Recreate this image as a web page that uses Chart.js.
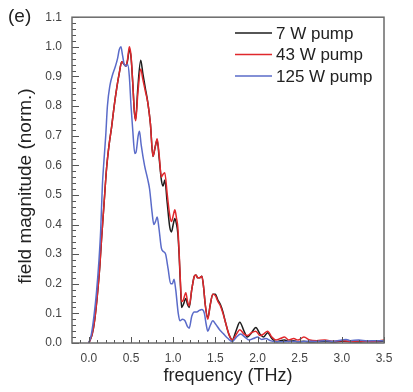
<!DOCTYPE html>
<html><head><meta charset="utf-8">
<script src="https://cdn.jsdelivr.net/npm/chart.js@4/dist/chart.umd.min.js"></script>
<style>html,body{margin:0;padding:0;background:#fff;}canvas{display:block;}</style>
</head><body>
<canvas id="c" width="413" height="392"></canvas>
<script>
const seriesLabels = ['7 W pump', '43 W pump', '125 W pump'];
const xTicks = [0.0, 0.5, 1.0, 1.5, 2.0, 2.5, 3.0, 3.5];
const yTicks = [0.0, 0.1, 0.2, 0.3, 0.4, 0.5, 0.6, 0.7, 0.8, 0.9, 1.0, 1.1];
const xTitle = 'frequency (THz)';
const yTitle = 'field magnitude (norm.)';

// frequency grid shared by the 7 W and 43 W curves (THz)
const freqLow = [0.00,0.04,0.07,0.10,0.13,0.15,0.18,0.21,0.24,0.27,0.30,0.33,0.36,0.39,0.42,0.44,0.46,0.48,0.50,0.52,0.54,0.555,0.58,0.615,0.64,0.67,0.70,0.73,0.76,0.785,0.81,0.835,0.86,0.88,0.90,0.93,0.96,0.98,1.00,1.02,1.04,1.055,1.07,1.09,1.10,1.12,1.15,1.17,1.19,1.22,1.25,1.27,1.29,1.31,1.34,1.36,1.38,1.41,1.44,1.47,1.50,1.53,1.56,1.59,1.62,1.66,1.70,1.75,1.79,1.84,1.88,1.93,1.98,2.03,2.07,2.12,2.17,2.22,2.27,2.32,2.37,2.43,2.48,2.55,2.62,2.70,2.80,2.90,3.00,3.10,3.20,3.30,3.40,3.50];

const field7 = [0.00,0.03,0.08,0.16,0.26,0.35,0.47,0.59,0.67,0.73,0.80,0.86,0.91,0.95,0.94,0.935,0.955,0.99,0.965,0.88,0.78,0.755,0.86,0.955,0.91,0.86,0.81,0.74,0.63,0.66,0.685,0.62,0.55,0.53,0.55,0.47,0.39,0.375,0.40,0.42,0.40,0.37,0.30,0.17,0.12,0.13,0.15,0.13,0.12,0.18,0.225,0.23,0.22,0.22,0.225,0.19,0.13,0.085,0.13,0.165,0.165,0.145,0.13,0.105,0.07,0.03,0.01,0.045,0.07,0.04,0.02,0.035,0.052,0.03,0.02,0.035,0.015,0.004,0.008,0.01,0.005,0.008,0.004,0.006,0.003,0.004,0.005,0.003,0.006,0.004,0.003,0.005,0.004,0.006];

const field43 = [0.00,0.03,0.08,0.16,0.26,0.35,0.47,0.59,0.67,0.73,0.80,0.86,0.91,0.95,0.94,0.935,0.96,1.00,0.97,0.88,0.78,0.75,0.84,0.925,0.89,0.85,0.81,0.74,0.63,0.66,0.69,0.63,0.56,0.57,0.575,0.50,0.43,0.41,0.43,0.45,0.42,0.39,0.31,0.18,0.14,0.145,0.17,0.14,0.125,0.18,0.225,0.23,0.22,0.22,0.225,0.19,0.13,0.08,0.13,0.165,0.16,0.14,0.125,0.10,0.07,0.03,0.01,0.03,0.045,0.03,0.025,0.035,0.04,0.025,0.03,0.04,0.02,0.01,0.015,0.02,0.01,0.015,0.01,0.02,0.01,0.008,0.01,0.006,0.008,0.005,0.007,0.005,0.006,0.01];

const freq125 = [0.00,0.03,0.06,0.09,0.12,0.14,0.16,0.18,0.20,0.22,0.25,0.28,0.31,0.34,0.36,0.38,0.40,0.42,0.44,0.46,0.48,0.50,0.52,0.545,0.56,0.585,0.60,0.62,0.66,0.70,0.72,0.75,0.77,0.79,0.81,0.83,0.86,0.88,0.91,0.94,0.97,0.99,1.01,1.03,1.06,1.08,1.11,1.14,1.17,1.19,1.22,1.25,1.28,1.31,1.34,1.37,1.39,1.41,1.44,1.47,1.50,1.55,1.60,1.65,1.70,1.75,1.80,1.85,1.90,1.95,2.00,2.05,2.10,2.15,2.20,2.30,2.40,2.50,2.60,2.70,2.80,2.90,3.00,3.05,3.10,3.20,3.30,3.40,3.50];

const field125 = [0.00,0.03,0.09,0.17,0.28,0.38,0.53,0.62,0.70,0.80,0.87,0.905,0.93,0.96,0.99,1.00,0.97,0.94,0.935,0.94,0.90,0.80,0.72,0.64,0.645,0.70,0.715,0.67,0.60,0.55,0.52,0.44,0.40,0.41,0.425,0.39,0.32,0.31,0.30,0.25,0.20,0.20,0.215,0.18,0.10,0.075,0.08,0.075,0.055,0.05,0.09,0.105,0.105,0.11,0.113,0.10,0.065,0.04,0.06,0.075,0.065,0.045,0.03,0.015,0.005,0.02,0.03,0.02,0.01,0.015,0.02,0.012,0.015,0.008,0.005,0.004,0.006,0.004,0.006,0.005,0.008,0.006,0.01,0.012,0.008,0.01,0.007,0.008,0.007];

const seriesColors = ['#1e1e1e', '#e0282c', '#5a6bc9'];

const toPts = (xs, ys) => xs.map((f, i) => ({x: f, y: ys[i]}));
const FONT = "'Liberation Sans', Arial, sans-serif";

const decor = {
  id: 'decor',
  afterDraw(chart) {
    const {ctx, chartArea: a, scales: {x, y}} = chart;
    ctx.save();
    // ticks (inward)
    ctx.strokeStyle = '#555'; ctx.lineWidth = 1;
    for (let i = -1; i <= 35; i++) {
      const px = Math.round(x.getPixelForValue(i / 10)) + 0.5;
      const len = (i % 5 === 0) ? 6 : 3;
      ctx.beginPath(); ctx.moveTo(px, a.bottom); ctx.lineTo(px, a.bottom - len); ctx.stroke();
    }
    for (let i = 0; i <= 55; i++) {
      const py = Math.round(y.getPixelForValue(i / 50)) + 0.5;
      const len = (i % 5 === 0) ? 7 : 4;
      ctx.beginPath(); ctx.moveTo(a.left, py); ctx.lineTo(a.left + len, py); ctx.stroke();
    }
    // frame
    ctx.strokeStyle = '#6a6a6a'; ctx.lineWidth = 1.5;
    ctx.strokeRect(a.left, a.top, a.right - a.left, a.bottom - a.top);
    // y-axis title
    ctx.save();
    ctx.translate(26, 186); ctx.rotate(-Math.PI / 2);
    ctx.font = '19px ' + FONT; ctx.fillStyle = '#222';
    ctx.textAlign = 'center'; ctx.textBaseline = 'middle';
    ctx.fillText(yTitle, 0, 0);
    ctx.restore();
    // legend
    ctx.font = '17px ' + FONT; ctx.textBaseline = 'middle'; ctx.textAlign = 'left';
    chart.data.datasets.forEach((ds, i) => {
      const ly = 33 + i * 21.5;
      ctx.strokeStyle = ds.borderColor; ctx.lineWidth = 1.6;
      ctx.beginPath(); ctx.moveTo(235, ly); ctx.lineTo(272, ly); ctx.stroke();
      ctx.fillStyle = '#222';
      ctx.fillText(ds.label, 276, ly + 1);
    });
    // panel label
    ctx.font = '19px ' + FONT; ctx.fillStyle = '#222'; ctx.textBaseline = 'middle';
    ctx.fillText('(e)', 8, 17);
    ctx.restore();
  }
};

new Chart(document.getElementById('c'), {
  type: 'line',
  data: {
    datasets: [
      {label: seriesLabels[0], data: toPts(freqLow, field7), borderColor: seriesColors[0], order: 2},
      {label: seriesLabels[1], data: toPts(freqLow, field43), borderColor: seriesColors[1], order: 1},
      {label: seriesLabels[2], data: toPts(freq125, field125), borderColor: seriesColors[2], order: 0}
    ]
  },
  options: {
    responsive: false,
    animation: false,
    devicePixelRatio: 1,
    layout: {padding: {left: 0, top: 14, right: 29, bottom: 0}},
    elements: {
      line: {borderWidth: 1.5, cubicInterpolationMode: 'monotone', fill: false},
      point: {radius: 0}
    },
    plugins: {legend: {display: false}, tooltip: {enabled: false}},
    scales: {
      x: {
        type: 'linear', min: -0.2, max: 3.5,
        grid: {display: false, drawTicks: false},
        border: {display: false},
        afterBuildTicks: s => { s.ticks = xTicks.map(v => ({value: v})); },
        afterFit: s => { s.height = 49; },
        ticks: {padding: 8, color: '#444', font: {family: FONT, size: 12}, maxRotation: 0, autoSkip: false,
                callback: v => Number(v).toFixed(1)},
        title: {display: true, text: xTitle, color: '#222', font: {family: FONT, size: 18}, padding: {top: 0, bottom: 5}}
      },
      y: {
        type: 'linear', min: 0, max: 1.1,
        grid: {display: false, drawTicks: false},
        border: {display: false},
        afterBuildTicks: s => { s.ticks = yTicks.map(v => ({value: v})); },
        afterFit: s => { s.width = 72; },
        ticks: {padding: 10, color: '#444', font: {family: FONT, size: 12},
                callback: v => Number(v).toFixed(1)},
        title: {display: false}
      }
    }
  },
  plugins: [decor]
});
</script>
</body></html>
